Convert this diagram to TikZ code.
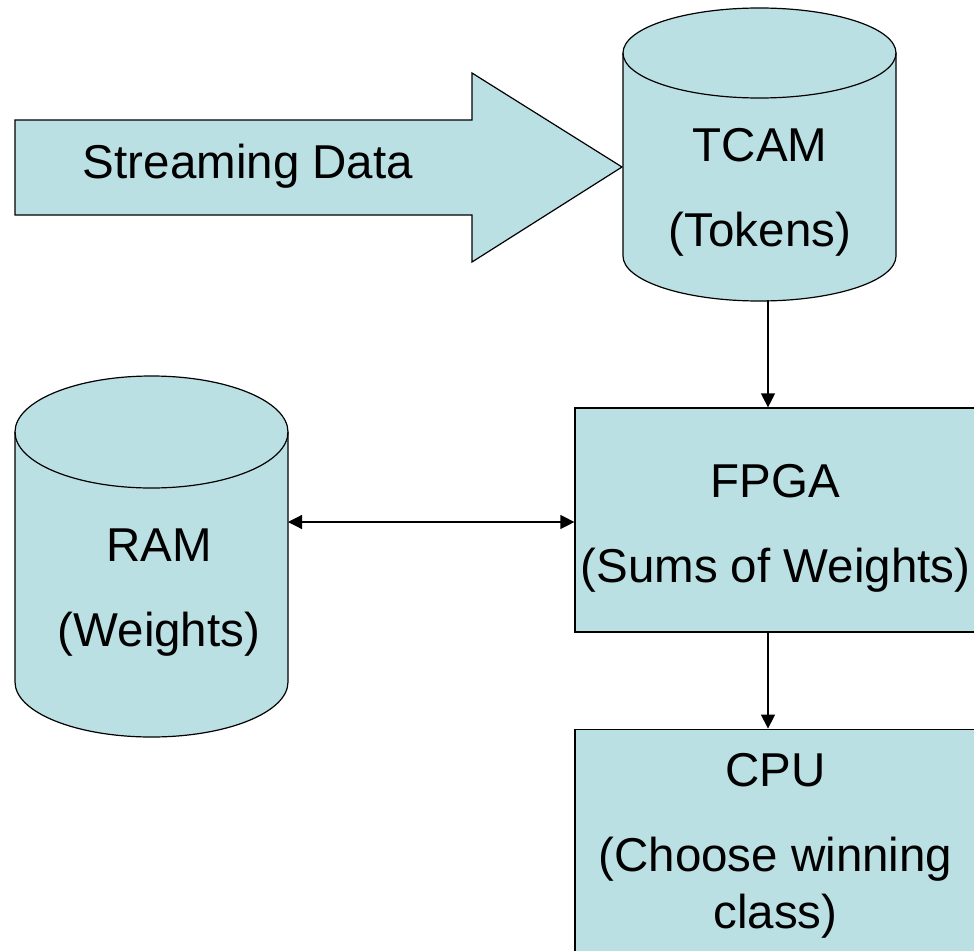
\documentclass[tikz,border=0pt]{standalone}
\usepackage{fontspec}
\setmainfont{Liberation Sans}
\usetikzlibrary{arrows.meta,positioning}
\definecolor{hwcyan}{RGB}{187,224,227}
\newcommand{\hwfont}{\fontsize{47.5}{57}\selectfont}
\tikzset{
  hwbox/.style={draw,fill=hwcyan,line width=1.2pt,align=center,font=\hwfont,
                minimum width=401pt,minimum height=224pt,inner sep=0pt},
  hwlbl/.style={align=center,font=\hwfont,inner sep=0pt},
  hwshape/.style={draw,fill=hwcyan,line width=1.2pt,line join=miter},
  arr/.style={-{Triangle[length=14pt,width=14pt]},line width=1.2pt},
  dblarr/.style={{Triangle[length=14pt,width=14pt]}-{Triangle[length=14pt,width=14pt]},line width=1.2pt},
}

\begin{document}
\begin{tikzpicture}[x=1pt,y=1pt]
  \clip (0,0) rectangle (974,-950);
  % big input arrow
  \draw[hwshape] (15,-120) -- (472,-120) -- (472,-73) -- (622,-167)
    -- (472,-262) -- (472,-215) -- (15,-215) -- cycle;
  \node[hwlbl,anchor=base] (stream) at (248,-178) {Streaming Data};
  % TCAM cylinder
  \draw[hwshape] (623,-53) -- (623,-256)
    arc[start angle=180,end angle=360,x radius=136.5,y radius=45]
    -- (896,-53) arc[start angle=0,end angle=180,x radius=136.5,y radius=45] -- cycle;
  \draw[line width=1.2pt] (623,-53) arc[start angle=180,end angle=360,x radius=136.5,y radius=45];
  \node[hwlbl,anchor=north] (tcam) at (760,-128) {TCAM\\[28pt](Tokens)};
  \coordinate (tcambot) at (768,-300);
  % RAM cylinder
  \draw[hwshape] (15,-432) -- (15,-682)
    arc[start angle=180,end angle=360,x radius=136.5,y radius=55]
    -- (288,-432) arc[start angle=0,end angle=180,x radius=136.5,y radius=56] -- cycle;
  \draw[line width=1.2pt] (15,-432) arc[start angle=180,end angle=360,x radius=136.5,y radius=56];
  \node[hwlbl,anchor=north] (ram) at (159,-529) {RAM\\[28pt](Weights)};
  \coordinate (ramside) at (288,-522);
  % boxes
  \node[hwbox] (fpga) at (775.5,-520) {\rule{0pt}{50pt}FPGA\\[28pt](Sums of Weights)};
  \node[hwbox,below=96pt of fpga] (cpu) {\rule{0pt}{43pt}CPU\\[28pt](Choose winning\\class)};
  % connectors
  \draw[arr] (tcambot) -- (tcambot |- fpga.north);
  \draw[arr] (fpga.south -| tcambot) -- (cpu.north -| tcambot);
  \draw[dblarr] (ramside) -- (ramside -| fpga.west);
\end{tikzpicture}
\end{document}
